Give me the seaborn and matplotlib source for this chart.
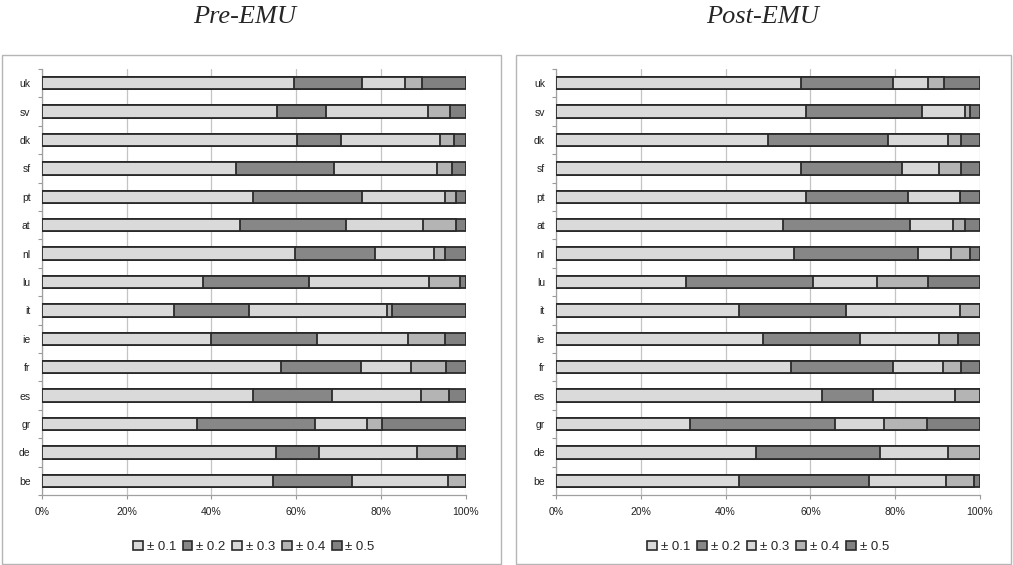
import matplotlib
matplotlib.use("Agg")
import matplotlib.pyplot as plt
from matplotlib.patches import Patch, Rectangle
import numpy as np
import pandas as pd
import seaborn as sns

# Country codes, top to bottom
countries = ["uk", "sv", "dk", "sf", "pt", "at", "nl", "lu", "it", "ie",
             "fr", "es", "gr", "de", "be"]
bands = ["\u00b1 0.1", "\u00b1 0.2", "\u00b1 0.3", "\u00b1 0.4", "\u00b1 0.5"]

# Share of observations (%) in each band, pre-EMU
pre_b1 = [59.6, 55.5, 60.2, 45.8, 49.9, 46.8, 59.7, 38.1, 31.3, 39.9, 56.4, 49.9, 36.6, 55.3, 54.6]
pre_b2 = [15.9, 11.6, 10.3, 23.1, 25.6, 24.9, 18.9, 25.0, 17.5, 25.0, 18.8, 18.5, 27.9, 10.2, 18.7]
pre_b3 = [10.2, 23.9, 23.5, 24.3, 19.5, 18.3, 14.0, 28.2, 32.6, 21.4, 11.8, 21.1, 12.3, 22.9, 22.6]
pre_b4 = [4.1, 5.2, 3.3, 3.5, 2.6, 7.6, 2.5, 7.4, 1.1, 8.8, 8.4, 6.5, 3.5, 9.6, 4.1]
pre_b5 = [10.2, 3.8, 2.7, 3.3, 2.4, 2.4, 4.9, 1.3, 17.5, 4.9, 4.6, 4.0, 19.7, 2.0, 0.0]

# Share of observations (%) in each band, post-EMU
post_b1 = [57.7, 58.9, 50.0, 57.7, 58.9, 53.6, 56.2, 30.6, 43.1, 48.9, 55.5, 62.7, 31.6, 47.1, 43.1]
post_b2 = [21.8, 27.4, 28.2, 24.0, 24.1, 29.9, 29.1, 30.0, 25.2, 22.8, 23.9, 12.1, 34.3, 29.3, 30.8]
post_b3 = [8.3, 10.2, 14.2, 8.6, 12.3, 10.1, 7.8, 15.0, 27.1, 18.6, 11.8, 19.3, 11.4, 16.1, 18.0]
post_b4 = [3.8, 1.2, 3.2, 5.3, 0.0, 2.9, 4.6, 12.2, 4.6, 4.4, 4.4, 5.9, 10.3, 7.5, 6.8]
post_b5 = [8.4, 2.3, 4.4, 4.4, 4.7, 3.5, 2.3, 12.2, 0.0, 5.3, 4.4, 0.0, 12.4, 0.0, 1.3]

band_colors = ["#dadada", "#878787", "#d8d8d8", "#b4b4b4", "#818181"]
edge = "#2a2a2a"

sns.set_theme(style="white")
plt.rcParams["font.family"] = ["Liberation Sans", "DejaVu Sans"]

fig = plt.figure(figsize=(10.13, 5.65), dpi=100)

# Panel frames
for x0, w in [(2, 499), (516, 495)]:
    fig.add_artist(Rectangle((x0 / 1013, 1 / 565), w / 1013, 509 / 565,
                             transform=fig.transFigure, fill=False,
                             edgecolor="#b5b5b5", linewidth=1.0))

ax_w = 424 / 1013
ax_b = 70 / 565
ax_h = 426 / 565
ax_pre = fig.add_axes([41.7 / 1013, ax_b, ax_w, ax_h])
ax_post = fig.add_axes([556 / 1013, ax_b, ax_w, ax_h])


def stacked(ax, cols, title, title_x):
    df = pd.DataFrame(dict(zip(bands, cols)), index=countries)
    cum = df.cumsum(axis=1)
    # widest cumulative bar first so each shorter one sits on top of it
    for i in range(len(bands) - 1, -1, -1):
        d = pd.DataFrame({"country": countries, "value": cum.iloc[:, i].values})
        sns.barplot(data=d, x="value", y="country", orient="h", ax=ax,
                    color=band_colors[i], saturation=1, width=0.43,
                    edgecolor=edge, linewidth=1.3, zorder=3)
    ax.set_xlim(0, 100)
    ax.set_ylim(len(countries) - 0.5, -0.5)
    ax.set_xlabel("")
    ax.set_ylabel("")
    ax.set_xticks(np.arange(0, 101, 20))
    ax.set_xticklabels([f"{v}%" for v in range(0, 101, 20)])
    ax.xaxis.grid(True, color="#c4c4c4", linewidth=0.9, zorder=0)
    ax.yaxis.grid(False)
    ax.set_axisbelow(True)
    ax.set_yticks(np.arange(-0.5, len(countries), 1.0), minor=True)
    ax.tick_params(axis="y", which="major", length=0, pad=8, labelsize=7.5,
                   labelcolor="#222222")
    ax.tick_params(axis="y", which="minor", length=3, color="#999999",
                   width=0.8, left=True)
    ax.tick_params(axis="x", which="major", length=3, color="#999999",
                   width=0.8, bottom=True, pad=5.5, labelsize=7.5,
                   labelcolor="#222222")
    for s in ["top", "right"]:
        ax.spines[s].set_visible(False)
    for s in ["left", "bottom"]:
        ax.spines[s].set_color("#a0a0a0")
        ax.spines[s].set_linewidth(0.9)
    handles = [Patch(facecolor=band_colors[i], edgecolor=edge, linewidth=1.2)
               for i in range(len(bands))]
    ax.legend(handles, bands, loc="center", bbox_to_anchor=(0.5, -0.122),
              ncol=5, frameon=False, fontsize=9.5, handlelength=0.75,
              handleheight=0.75, handletextpad=0.3, columnspacing=0.5,
              borderaxespad=0)
    fig.text(title_x / 1013, 1 - 17 / 565, title, ha="center", va="center",
             fontsize=19, style="italic",
             family=["Liberation Serif", "DejaVu Serif"])


stacked(ax_pre, [pre_b1, pre_b2, pre_b3, pre_b4, pre_b5], "Pre-EMU", 245)
stacked(ax_post, [post_b1, post_b2, post_b3, post_b4, post_b5], "Post-EMU", 763)

fig.savefig("out.png", dpi=100)
